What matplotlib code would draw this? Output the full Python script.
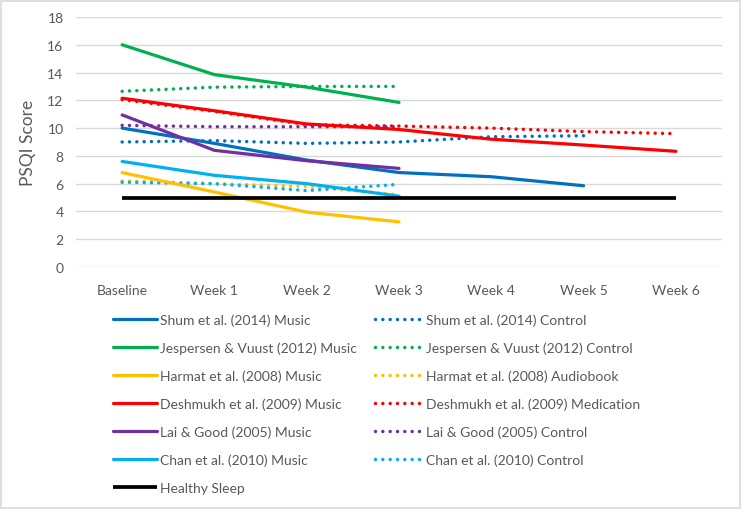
import numpy as np
import matplotlib
matplotlib.use("Agg")
import matplotlib.pyplot as plt
from matplotlib.patches import Rectangle

nan = np.nan
categories = ["Baseline", "Week 1", "Week 2", "Week 3", "Week 4", "Week 5", "Week 6"]

shum_music = [10.0, 8.9, 7.7, 6.8, 6.5, 5.85, nan]
shum_control = [9.0, 9.1, 8.9, 9.0, 9.38, 9.45, nan]
jesp_music = [16.0, 13.85, 12.95, 11.85, nan, nan, nan]
jesp_control = [12.65, 12.95, 13.0, 13.0, nan, nan, nan]
harmat_music = [6.8, 5.4, 3.95, 3.25, nan, nan, nan]
harmat_audio = [6.2, 6.0, 5.8, 5.2, nan, nan, nan]
desh_music = [12.15, 11.25, 10.3, 9.9, 9.2, 8.78, 8.33]
desh_medication = [12.05, 11.2, 10.25, 10.15, 10.0, 9.75, 9.6]
lai_music = [10.95, 8.4, 7.65, 7.1, nan, nan, nan]
lai_control = [10.2, 10.1, 10.1, 10.1, nan, nan, nan]
chan_music = [7.6, 6.6, 6.0, 5.1, nan, nan, nan]
chan_control = [6.1, 6.0, 5.5, 5.95, nan, nan, nan]
healthy = [5, 5, 5, 5, 5, 5, 5]

music_series = [
    ("Shum et al. (2014) Music", shum_music, "#0070C0"),
    ("Jespersen & Vuust (2012) Music", jesp_music, "#00B050"),
    ("Harmat et al. (2008) Music", harmat_music, "#FFC000"),
    ("Deshmukh et al. (2009) Music", desh_music, "#FF0000"),
    ("Lai & Good (2005) Music", lai_music, "#7030A0"),
    ("Chan et al. (2010) Music", chan_music, "#00B0F0"),
]
control_series = [
    ("Shum et al. (2014) Control", shum_control, "#0070C0"),
    ("Jespersen & Vuust (2012) Control", jesp_control, "#00B050"),
    ("Harmat et al. (2008) Audiobook", harmat_audio, "#FFC000"),
    ("Deshmukh et al. (2009) Medication", desh_medication, "#FF0000"),
    ("Lai & Good (2005) Control", lai_control, "#7030A0"),
    ("Chan et al. (2010) Control", chan_control, "#00B0F0"),
]

plt.rcParams['font.family'] = ['Lato', 'DejaVu Sans']
W, H = 742, 510
fig = plt.figure(figsize=(W / 100, H / 100), dpi=100)
ax = fig.add_axes([76 / W, (H - 268) / H, (722 - 76) / W, (268 - 18) / H])

x = np.arange(len(categories))
dot_style = (0, (0.01, 2.1))

h_music = []
h_ctrl = []
for (lab, vals, col) in control_series:
    ln, = ax.plot(x, vals, color=col, lw=2.5, linestyle=dot_style,
                  dash_capstyle='round', label=lab, zorder=3)
    h_ctrl.append(ln)
for (lab, vals, col) in music_series:
    ln, = ax.plot(x, vals, color=col, lw=2.3, solid_capstyle='round',
                  label=lab, zorder=4)
    h_music.append(ln)
hl, = ax.plot(x, healthy, color="black", lw=2.7, solid_capstyle='butt',
              label="Healthy Sleep", zorder=5)
h_music.append(hl)

ax.set_xlim(-0.5, 6.5)
ax.set_ylim(0, 18)
ax.set_yticks(np.arange(0, 19, 2))
ax.set_xticks(x)
ax.set_xticklabels(categories)
ax.grid(axis='y', color='#d9d9d9', lw=1.0)
ax.set_axisbelow(True)
for s in ax.spines.values():
    s.set_visible(False)
ax.tick_params(axis='both', length=0, labelsize=10, labelcolor='#595959')
ax.tick_params(axis='y', pad=9)
ax.tick_params(axis='x', pad=12)
ax.set_ylabel("PSQI Score", fontsize=12.5, color='#595959', labelpad=8)

leg_kw = dict(frameon=False, fontsize=10, handlelength=3.15,
              labelspacing=1.12, borderpad=0, borderaxespad=0, labelcolor='#595959')
leg1 = fig.legend(handles=h_music, loc='upper left', handletextpad=0.25,
                  bbox_to_anchor=(113 / W, 1 - 314 / H), **leg_kw)
leg2 = fig.legend(handles=h_ctrl, loc='upper left', handletextpad=0.5,
                  bbox_to_anchor=(375 / W, 1 - 314 / H), **leg_kw)

fig.patches.append(Rectangle((1 / W, 1 / H), 1 - 3 / W, 1 - 3 / H, transform=fig.transFigure,
                             fill=False, edgecolor='#d9d9d9', lw=1.2))

fig.savefig("out.png", dpi=100, facecolor='white')
